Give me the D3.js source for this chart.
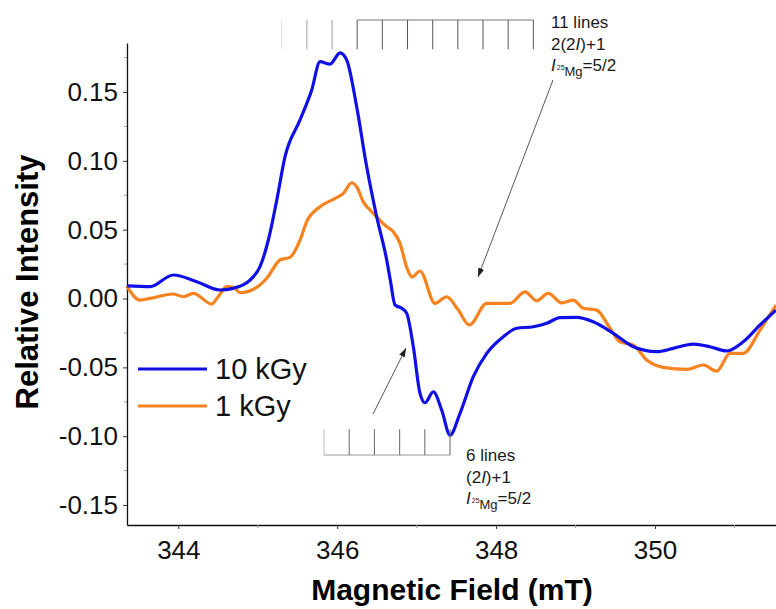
<!DOCTYPE html>
<html>
<head>
<meta charset="utf-8">
<script src="https://cdn.jsdelivr.net/npm/d3@7"></script>
<style>
  body { margin: 0; background: #fff; }
  svg { display: block; font-family: Arial, "Liberation Sans", sans-serif; }
</style>
</head>
<body>
<svg></svg>
<script>

// spettro 10 kGy (campo in mT, intensita relativa)
var field10 = [343.354, 343.644, 343.937, 344.232, 344.525, 344.692, 344.902, 345.028, 345.133, 345.239,
               345.343, 345.532, 345.679, 345.784, 345.910, 346.036, 346.120, 346.245, 346.371, 346.497,
               346.623, 346.668, 346.728, 346.812, 346.875, 346.958, 347.042, 347.105, 347.210,
               347.315, 347.420, 347.546, 347.713, 347.882, 348.091, 348.259, 348.468, 348.637, 348.804,
               349.014, 349.223, 349.475, 349.727, 350.021, 350.230, 350.482, 350.692, 350.902, 351.111,
               351.322, 351.523]
var int10 = [0.0092, 0.0086, 0.0171, 0.0122, 0.0062, 0.0074, 0.0134, 0.0231, 0.0425, 0.0715,
             0.1030, 0.1297, 0.1515, 0.1720, 0.1703, 0.1785, 0.1732, 0.1393, 0.0957, 0.0594,
             0.0280, 0.0134, -0.0047, -0.0071, -0.0108, -0.0350, -0.0689, -0.0757, -0.0677,
             -0.0810, -0.0992, -0.0834, -0.0568, -0.0398, -0.0277, -0.0216, -0.0205, -0.0180, -0.0139,
             -0.0137, -0.0169, -0.0253, -0.0350, -0.0386, -0.0362, -0.0331, -0.0350, -0.0381, -0.0314,
             -0.0192, -0.0084]

// spettro 1 kGy
var field1 = [343.351, 343.518, 343.644, 343.937, 344.063, 344.189, 344.420, 344.501, 344.609, 344.692,
              344.777, 344.987, 345.113, 345.280, 345.406, 345.532, 345.616, 345.784, 345.951, 346.077,
              346.183, 346.245, 346.328, 346.454, 346.623, 346.706, 346.790, 346.872, 346.942, 347.042,
              347.231, 347.378, 347.524, 347.663, 347.882, 348.175, 348.364, 348.511, 348.657, 348.826,
              348.972, 349.098, 349.266, 349.434, 349.559, 349.727, 349.896, 350.104, 350.399, 350.608,
              350.777, 350.944, 351.111, 351.322, 351.523]
var int1 = [0.0091, -0.0011, 0.0001, 0.0033, 0.0013, 0.0038, -0.0040, 0.0013, 0.0086, 0.0081,
            0.0042, 0.0081, 0.0147, 0.0280, 0.0299, 0.0425, 0.0558, 0.0667, 0.0721, 0.0764,
            0.0841, 0.0812, 0.0703, 0.0619, 0.0522, 0.0485, 0.0401, 0.0231, 0.0156, 0.0200,
            -0.0035, 0.0013, -0.0084, -0.0192, -0.0035, -0.0035, 0.0049, -0.0016, 0.0038, -0.0031,
            -0.0011, -0.0071, -0.0084, -0.0216, -0.0314, -0.0338, -0.0447, -0.0500, -0.0514, -0.0483,
            -0.0527, -0.0398, -0.0398, -0.0229, -0.0047]

var seriesNames = ["10 kGy", "1 kGy"]
var seriesColours = ["#1010e6", "#f7821e"]

var xTicks = [344, 346, 348, 350]
var yTicks = [-0.15, -0.10, -0.05, 0.00, 0.05, 0.10, 0.15]

// struttura iperfine 25Mg: 11 righe (alto) e 6 righe (basso)
var lines11 = [345.301, 345.618, 345.935, 346.251, 346.568, 346.885, 347.202, 347.518, 347.835, 348.152, 348.469]
var lines6 = [345.834, 346.151, 346.468, 346.786, 347.103, 347.420]


var svg = d3.select("svg")
    .attr("width", 776)
    .attr("height", 609);

var x = d3.scaleLinear().domain([343.354, 351.523]).range([127, 776]);
var y = d3.scaleLinear().domain([-0.1645, 0.1856]).range([525, 43]);

var fmt = function (d) { return d3.format(".2f")(d).replace("\u2212", "-"); };

// asse y
var yAxis = svg.append("g")
    .attr("transform", "translate(127,0)")
    .call(d3.axisLeft(y).tickValues(yTicks).tickFormat(fmt).tickSize(4).tickSizeOuter(0).tickPadding(5));
yAxis.select(".domain").attr("stroke", "#111").attr("stroke-width", 1.3);
yAxis.selectAll(".tick line").attr("stroke", "#333");
yAxis.selectAll(".tick text").attr("font-size", 26).attr("fill", "#111").attr("font-family", null);

// tacche minori y
svg.append("g").selectAll("line")
    .data(yTicks.slice(0, -1).map(function (d) { return d + 0.025; }).concat([0.175]))
    .join("line")
    .attr("x1", 124).attr("x2", 127)
    .attr("y1", function (d) { return y(d); })
    .attr("y2", function (d) { return y(d); })
    .attr("stroke", "#999");

// asse x
var xAxis = svg.append("g")
    .attr("transform", "translate(0,525)")
    .call(d3.axisBottom(x).tickValues(xTicks).tickFormat(d3.format("d")).tickSize(4).tickSizeOuter(0).tickPadding(12));
xAxis.select(".domain").attr("stroke", "#111").attr("stroke-width", 1.3);
xAxis.selectAll(".tick line").attr("stroke", "#333");
xAxis.selectAll(".tick text").attr("font-size", 26).attr("fill", "#111").attr("font-family", null);

svg.append("g").selectAll("line")
    .data([345, 347, 349, 351])
    .join("line")
    .attr("x1", function (d) { return x(d); })
    .attr("x2", function (d) { return x(d); })
    .attr("y1", 525).attr("y2", 528)
    .attr("stroke", "#999");

// titoli assi
svg.append("text")
    .attr("transform", "translate(38,282) rotate(-90)")
    .attr("text-anchor", "middle")
    .attr("font-size", 31)
    .attr("font-weight", "bold")
    .text("Relative Intensity");

svg.append("text")
    .attr("x", 452)
    .attr("y", 600)
    .attr("text-anchor", "middle")
    .attr("font-size", 30)
    .attr("font-weight", "bold")
    .text("Magnetic Field (mT)");

// curve
var line = d3.line()
    .x(function (d) { return x(d[0]); })
    .y(function (d) { return y(d[1]); })
    .curve(d3.curveMonotoneX);

svg.append("path")
    .datum(d3.zip(field1, int1))
    .attr("d", line)
    .attr("fill", "none")
    .attr("stroke", seriesColours[1])
    .attr("stroke-width", 3.2)
    .attr("stroke-linejoin", "round");

svg.append("path")
    .datum(d3.zip(field10, int10))
    .attr("d", line)
    .attr("fill", "none")
    .attr("stroke", seriesColours[0])
    .attr("stroke-width", 3.2)
    .attr("stroke-linejoin", "round");

// legenda
var leg = svg.append("g").selectAll("g")
    .data(seriesNames)
    .join("g")
    .attr("transform", function (d, i) { return "translate(138," + (369 + i * 37) + ")"; });
leg.append("line")
    .attr("x1", 0).attr("x2", 69)
    .attr("stroke", function (d, i) { return seriesColours[i]; })
    .attr("stroke-width", 3.2);
leg.append("text")
    .attr("x", 77)
    .attr("dy", "0.36em")
    .attr("font-size", 29)
    .attr("fill", "#111")
    .text(function (d) { return d; });

// righe iperfini in alto
var topY1 = 0.2023, topY2 = 0.1810;
svg.append("line")
    .attr("x1", x(lines11[3])).attr("x2", x(lines11[10]))
    .attr("y1", y(topY1)).attr("y2", y(topY1))
    .attr("stroke", "#777");
svg.append("g").selectAll("line")
    .data(lines11)
    .join("line")
    .attr("x1", function (d) { return x(d); })
    .attr("x2", function (d) { return x(d); })
    .attr("y1", y(topY1)).attr("y2", y(topY2))
    .attr("stroke", function (d, i) { return i == 0 ? "#ddd" : (i < 3 ? "#999" : "#555"); });

// righe iperfini in basso
var botY1 = -0.0949, botY2 = -0.1137;
svg.append("line")
    .attr("x1", x(lines6[0])).attr("x2", x(lines6[5]))
    .attr("y1", y(botY2)).attr("y2", y(botY2))
    .attr("stroke", "#999");
svg.append("g").selectAll("line")
    .data(lines6)
    .join("line")
    .attr("x1", function (d) { return x(d); })
    .attr("x2", function (d) { return x(d); })
    .attr("y1", y(botY1)).attr("y2", y(botY2))
    .attr("stroke", function (d, i) { return i == 0 ? "#bbb" : "#666"; });

// frecce
svg.append("defs").append("marker")
    .attr("id", "arrow")
    .attr("viewBox", "0 0 10 10")
    .attr("refX", 10).attr("refY", 5)
    .attr("markerWidth", 9).attr("markerHeight", 9)
    .attr("markerUnits", "userSpaceOnUse")
    .attr("orient", "auto")
    .append("path")
    .attr("d", "M0,1.5L10,5L0,8.5z")
    .attr("fill", "#222");

svg.append("line")
    .attr("x1", x(348.716)).attr("y1", y(0.1587))
    .attr("x2", x(347.772)).attr("y2", y(0.0156))
    .attr("stroke", "#444").attr("stroke-width", 0.9)
    .attr("marker-end", "url(#arrow)");

svg.append("line")
    .attr("x1", x(346.451)).attr("y1", y(-0.0839))
    .attr("x2", x(346.866)).attr("y2", y(-0.0360))
    .attr("stroke", "#444").attr("stroke-width", 0.9)
    .attr("marker-end", "url(#arrow)");

// testi annotazioni
function note(px, py, first, second) {
    var g = svg.append("g").attr("fill", "#1a1a1a").attr("font-size", 17);
    g.append("text").attr("x", px).attr("y", py).text(first);
    var t2 = g.append("text").attr("x", px).attr("y", py + 21.5);
    t2.append("tspan").text(second);
    t2.append("tspan").attr("font-style", "italic").text("I");
    t2.append("tspan").text(")+1");
    var t3 = g.append("text").attr("x", px).attr("y", py + 43);
    t3.append("tspan").attr("font-style", "italic").text("I");
    t3.append("tspan").attr("font-size", 7).attr("dx", 1).attr("dy", -1).text("25");
    t3.append("tspan").attr("font-size", 13).attr("dy", 6).text("Mg");
    t3.append("tspan").attr("dy", -5).text("=5/2");
}
note(551, 28, "11 lines", "2(2");
note(466, 461, "6 lines", "(2");

</script>
</body>
</html>
